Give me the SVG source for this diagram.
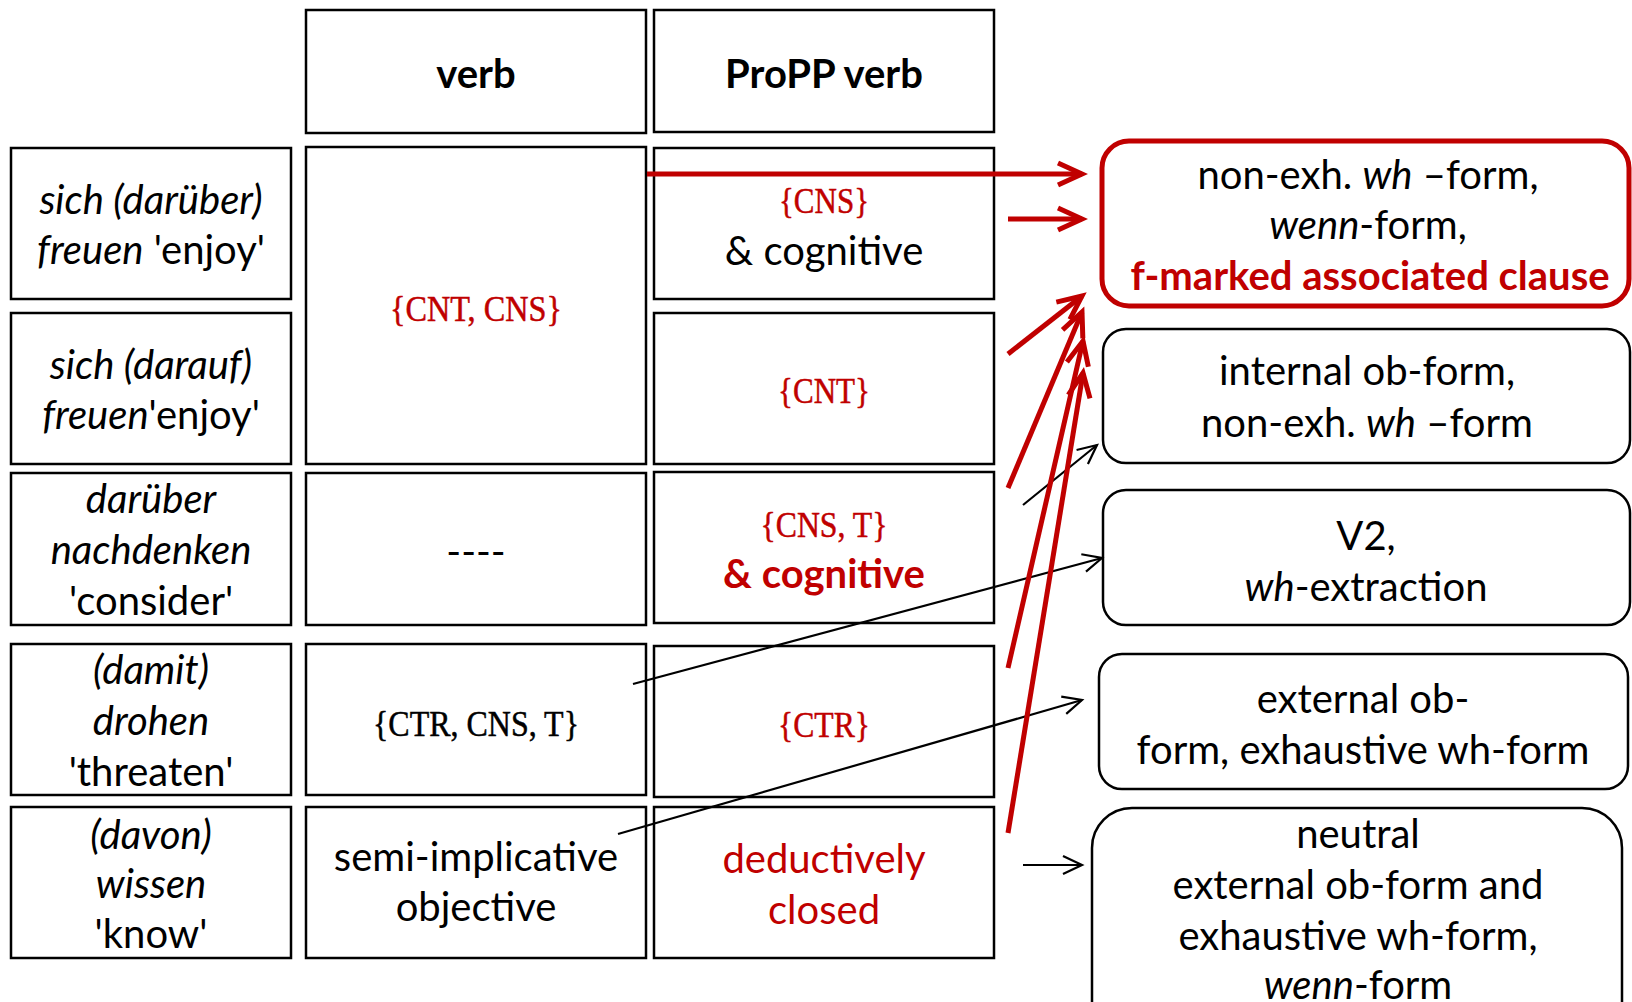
<svg xmlns="http://www.w3.org/2000/svg" width="1632" height="1002" viewBox="0 0 1632 1002">
<style>
.cell{fill:#fff;stroke:#000;stroke-width:2.5}
.box{fill:#fff;stroke:#000;stroke-width:2.5}
.redbox{fill:#fff;stroke:#C00000;stroke-width:5}
.t{font-family:Lato,"Open Sans",sans-serif;font-size:40px;text-anchor:middle;fill:#000}
.s{font-family:"Liberation Serif",serif;font-size:36px;text-anchor:middle;fill:#000;stroke:#000;stroke-width:0.5}
.s.red{fill:#C00000;stroke:#C00000}
.red{fill:#C00000}
.b{font-weight:bold}
.i{font-style:italic}
.rl{stroke:#C00000;stroke-width:5;fill:none}
.bl{stroke:#000;stroke-width:2.2;fill:none}
</style>
<defs>
<marker id="ra" markerUnits="userSpaceOnUse" viewBox="-30 -15 34 30" refX="0" refY="0" markerWidth="34" markerHeight="30" orient="auto" overflow="visible">
<path d="M-24,-11 L0,0 L-24,11" fill="none" stroke="#C00000" stroke-width="5"/>
</marker>
<marker id="ba" markerUnits="userSpaceOnUse" viewBox="-22 -12 26 24" refX="0" refY="0" markerWidth="26" markerHeight="24" orient="auto" overflow="visible">
<path d="M-19,-9 L0,0 L-19,9" fill="none" stroke="#000" stroke-width="2.2"/>
</marker>
</defs>

<g id="hdr-verb"><rect class="cell" x="306" y="10" width="340" height="123"/><text class="t b" x="476" y="88">verb</text></g>
<g id="hdr-propp"><rect class="cell" x="654" y="10" width="340" height="122"/><text class="t b" x="824" y="88">ProPP verb</text></g>

<g id="r1-left"><rect class="cell" x="11" y="148" width="280" height="151"/>
<text class="t" x="151" y="214"><tspan class="i">sich (darüber)</tspan></text>
<text class="t" x="151" y="264"><tspan class="i">freuen</tspan> 'enjoy'</text></g>
<g id="verb-r12"><rect class="cell" x="306" y="147" width="340" height="317"/>
<text class="s red" x="476" y="321" textLength="172" lengthAdjust="spacingAndGlyphs">{CNT, CNS}</text></g>
<g id="r1-propp"><rect class="cell" x="654" y="148" width="340" height="151"/>
<text class="s red" x="824" y="213" textLength="90" lengthAdjust="spacingAndGlyphs">{CNS}</text>
<text class="t" x="824" y="265">&amp; cognitive</text></g>

<g id="r2-left"><rect class="cell" x="11" y="313" width="280" height="151"/>
<text class="t" x="151" y="379"><tspan class="i">sich (darauf)</tspan></text>
<text class="t" x="151" y="429"><tspan class="i">freuen</tspan>'enjoy'</text></g>
<g id="r2-propp"><rect class="cell" x="654" y="313" width="340" height="151"/>
<text class="s red" x="824" y="403" textLength="92" lengthAdjust="spacingAndGlyphs">{CNT}</text></g>

<g id="r3-left"><rect class="cell" x="11" y="473" width="280" height="152"/>
<text class="t i" x="151" y="513">darüber</text>
<text class="t i" x="151" y="564">nachdenken</text>
<text class="t" x="151" y="615">'consider'</text></g>
<g id="r3-verb"><rect class="cell" x="306" y="473" width="340" height="152"/>
<text class="t" x="476" y="566">----</text></g>
<g id="r3-propp"><rect class="cell" x="654" y="472" width="340" height="151"/>
<text class="s red" x="824" y="537" textLength="127" lengthAdjust="spacingAndGlyphs">{CNS, T}</text>
<text class="t b red" x="824" y="588">&amp; cognitive</text></g>

<g id="r4-left"><rect class="cell" x="11" y="644" width="280" height="151"/>
<text class="t i" x="151" y="684">(damit)</text>
<text class="t i" x="151" y="735">drohen</text>
<text class="t" x="151" y="786">'threaten'</text></g>
<g id="r4-verb"><rect class="cell" x="306" y="644" width="340" height="151"/>
<text class="s" x="476" y="736" textLength="206" lengthAdjust="spacingAndGlyphs">{CTR, CNS, T}</text></g>
<g id="r4-propp"><rect class="cell" x="654" y="646" width="340" height="151"/>
<text class="s red" x="824" y="737" textLength="92" lengthAdjust="spacingAndGlyphs">{CTR}</text></g>

<g id="r5-left"><rect class="cell" x="11" y="807" width="280" height="151"/>
<text class="t i" x="151" y="849">(davon)</text>
<text class="t i" x="151" y="898">wissen</text>
<text class="t" x="151" y="948">'know'</text></g>
<g id="r5-verb"><rect class="cell" x="306" y="807" width="340" height="151"/>
<text class="t" x="476" y="871">semi-implicative</text>
<text class="t" x="476" y="921">objective</text></g>
<g id="r5-propp"><rect class="cell" x="654" y="807" width="340" height="151"/>
<text class="t red" x="824" y="873">deductively</text>
<text class="t red" x="824" y="924">closed</text></g>

<g id="out-fmarked"><rect class="redbox" x="1102" y="141" width="527" height="165" rx="27"/>
<text class="t" x="1368" y="189">non-exh. <tspan class="i">wh</tspan> –form,</text>
<text class="t" x="1368" y="239"><tspan class="i">wenn</tspan>-form,</text>
<text class="t b red" x="1370" y="290">f-marked associated clause</text></g>
<g id="out-internal"><rect class="box" x="1103" y="329" width="527" height="134" rx="23"/>
<text class="t" x="1367" y="385">internal ob-form,</text>
<text class="t" x="1367" y="437">non-exh. <tspan class="i">wh</tspan> –form</text></g>
<g id="out-v2"><rect class="box" x="1103" y="490" width="527" height="135" rx="23"/>
<text class="t" x="1366" y="550">V2,</text>
<text class="t" x="1366" y="601"><tspan class="i">wh</tspan>-extraction</text></g>
<g id="out-external"><rect class="box" x="1099" y="654" width="529" height="135" rx="23"/>
<text class="t" x="1363" y="713">external ob-</text>
<text class="t" x="1363" y="764">form, exhaustive wh-form</text></g>
<g id="out-neutral"><rect class="box" x="1092" y="808" width="530" height="240" rx="40"/>
<text class="t" x="1358" y="848">neutral</text>
<text class="t" x="1358" y="899">external ob-form and</text>
<text class="t" x="1358" y="950">exhaustive wh-form,</text>
<text class="t" x="1358" y="999"><tspan class="i">wenn</tspan>-form</text></g>

<g id="connectors">
<path class="bl" d="M1023,505 L1097,445" marker-end="url(#ba)"/>
<path class="bl" d="M633,684 L1102,558" marker-end="url(#ba)"/>
<path class="bl" d="M618,834 L1082,700" marker-end="url(#ba)"/>
<path class="bl" d="M1023,865 L1082,865" marker-end="url(#ba)"/>
<path class="rl" d="M647,174 L1082,174" marker-end="url(#ra)"/>
<path class="rl" d="M1008,219 L1082,219" marker-end="url(#ra)"/>
<path class="rl" d="M1008,354 L1082,296" marker-end="url(#ra)"/>
<path class="rl" d="M1008,488 L1082,312" marker-end="url(#ra)"/>
<path class="rl" d="M1008,668 L1083,341" marker-end="url(#ra)"/>
<path class="rl" d="M1008,833 L1083,373" marker-end="url(#ra)"/>
</g>
</svg>
